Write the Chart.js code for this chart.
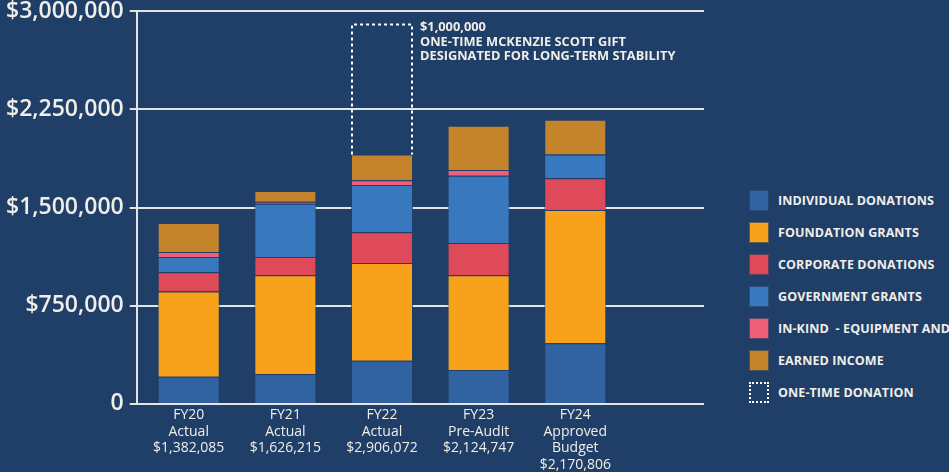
<!DOCTYPE html>
<html>
<head>
<meta charset="utf-8">
<script src="https://cdn.jsdelivr.net/npm/chart.js@4.4.1/dist/chart.umd.min.js"></script>
<style>
    html, body { margin: 0; padding: 0; background: #1f3f68; width: 949px; height: 472px; overflow: hidden; font-family: 'Open Sans', sans-serif; }
    #revenue_chart_div { position: absolute; left: 0; top: 0; width: 706px; height: 472px; }
    #legend { position: absolute; left: 749px; top: 190px; list-style: none; margin: 0; padding: 0; }
    #legend li { display: flex; align-items: center; height: 21px; margin-bottom: 11px; white-space: pre; color: #f1eee8; font-size: 12.5px; font-weight: 700; letter-spacing: 0.1px; }
    #legend .box { width: 20px; height: 21px; margin-right: 9px; box-sizing: border-box; flex: none; }
</style>
</head>
<body>
<div id="revenue_chart_div"><canvas id="revenue_chart"></canvas></div>
<ul id="legend"></ul>
<script>
const fiscal_years = ['FY20', 'FY21', 'FY22', 'FY23', 'FY24'];
const year_notes = [
    ['Actual', '$1,382,085'],
    ['Actual', '$1,626,215'],
    ['Actual', '$2,906,072'],
    ['Pre-Audit', '$2,124,747'],
    ['Approved', 'Budget', '$2,170,806'],
];
const individual_donations = [207000, 228000, 330000, 259000, 463000];
const foundation_grants = [652000, 754000, 747000, 724000, 1018000];
const corporate_donations = [146000, 140000, 235000, 246000, 243000];
const government_grants = [117000, 407000, 361000, 514000, 181000];
const in_kind = [38000, 15000, 36000, 44000, 0];
const earned_income = [222000, 82000, 197000, 338000, 266000];
const one_time_donation = [0, 0, 1000000, 0, 0];
const y_ticks = [0, 750000, 1500000, 2250000, 3000000];
const note_lines = ['$1,000,000', 'ONE-TIME MCKENZIE SCOTT GIFT', 'DESIGNATED FOR LONG-TERM STABILITY'];

const text_color = '#f1eee8';

function points(values) {
    return values.map((v, i) => ({x: i, y: v}));
}

function dataset(label, values, color) {
    return {
        label: label,
        data: points(values),
        backgroundColor: color,
        borderColor: 'rgba(35, 62, 100, 0.7)',
        borderWidth: 1,
    };
}

const datasets = [
    dataset('INDIVIDUAL DONATIONS', individual_donations, '#3163a3'),
    dataset('FOUNDATION GRANTS', foundation_grants, '#f8a21c'),
    dataset('CORPORATE DONATIONS', corporate_donations, '#de4a5a'),
    dataset('GOVERNMENT GRANTS', government_grants, '#3778bf'),
    dataset('IN-KIND  - EQUIPMENT AND SERVICES', in_kind, '#ef5f7a'),
    dataset('EARNED INCOME', earned_income, '#c5842b'),
    {
        label: 'ONE-TIME DONATION',
        data: points(one_time_donation),
        backgroundColor: 'rgba(0, 0, 0, 0)',
        borderWidth: 0,
    },
];

// dotted outline + note for the one-time gift
const one_time_box = {
    id: 'one_time_box',
    afterDatasetsDraw(chart) {
        const ctx = chart.ctx;
        const meta = chart.getDatasetMeta(datasets.length - 1);
        meta.data.forEach((bar, i) => {
            if (!one_time_donation[i]) return;
            const {x, y, base, width} = bar.getProps(['x', 'y', 'base', 'width'], true);
            const l = x - width / 2 + 1, r = x + width / 2 - 1;
            ctx.save();
            ctx.strokeStyle = '#ffffff';
            ctx.lineWidth = 2;
            ctx.setLineDash([3, 3]);
            ctx.beginPath();
            ctx.moveTo(l, base);
            ctx.lineTo(l, y + 1);
            ctx.lineTo(r, y + 1);
            ctx.lineTo(r, base);
            ctx.stroke();
            ctx.setLineDash([]);
            ctx.fillStyle = text_color;
            ctx.font = '700 12.8px "Open Sans"';
            ctx.textBaseline = 'middle';
            note_lines.forEach((t, k) => ctx.fillText(t, r + 8, y + 4 + k * 14.5));
            ctx.restore();
        });
    }
};

const chart = new Chart(document.getElementById('revenue_chart'), {
    type: 'bar',
    data: {datasets: datasets},
    options: {
        responsive: true,
        maintainAspectRatio: false,
        animation: false,
        categoryPercentage: 1,
        barPercentage: 0.642,
        layout: {padding: {left: 0, right: 2, top: 0, bottom: -4}},
        plugins: {
            legend: {display: false},
            tooltip: {enabled: false},
        },
        scales: {
            x: {
                type: 'linear',
                stacked: true,
                offset: false,
                min: -0.538,
                max: 5.332,
                grid: {display: false, drawTicks: false},
                border: {display: false},
                afterBuildTicks: (scale) => {
                    scale.ticks = fiscal_years.map((_, i) => ({value: i}));
                },
                ticks: {
                    autoSkip: false,
                    maxRotation: 0,
                    padding: 3,
                    color: text_color,
                    font: {family: 'Open Sans', size: 14, weight: 500, lineHeight: 1.18},
                    callback: (v) => [fiscal_years[v]].concat(year_notes[v]),
                },
            },
            y: {
                stacked: true,
                min: 0,
                max: 3000000,
                afterBuildTicks: (scale) => {
                    scale.ticks = y_ticks.map((v) => ({value: v}));
                },
                grid: {color: '#e4e4e4', lineWidth: 2, tickLength: 7},
                border: {display: true, color: '#e4e4e4', width: 2},
                ticks: {
                    padding: 6,
                    color: text_color,
                    font: {family: 'Open Sans', size: 23, weight: 600, lineHeight: 0.45},
                    callback: (v) => v === 0 ? '0' : '$' + v.toLocaleString('en-US'),
                },
            },
        },
    },
    plugins: [one_time_box],
});

// legend built from the datasets
const legend = document.getElementById('legend');
chart.data.datasets.forEach((ds, i) => {
    const li = document.createElement('li');
    const box = document.createElement('span');
    box.className = 'box';
    if (i === datasets.length - 1) {
        box.style.border = '2px dotted #ffffff';
    } else {
        box.style.background = ds.backgroundColor;
        box.style.border = '1px solid rgba(35, 62, 100, 0.7)';
    }
    li.appendChild(box);
    li.appendChild(document.createTextNode(ds.label));
    legend.appendChild(li);
});
</script>
</body>
</html>
